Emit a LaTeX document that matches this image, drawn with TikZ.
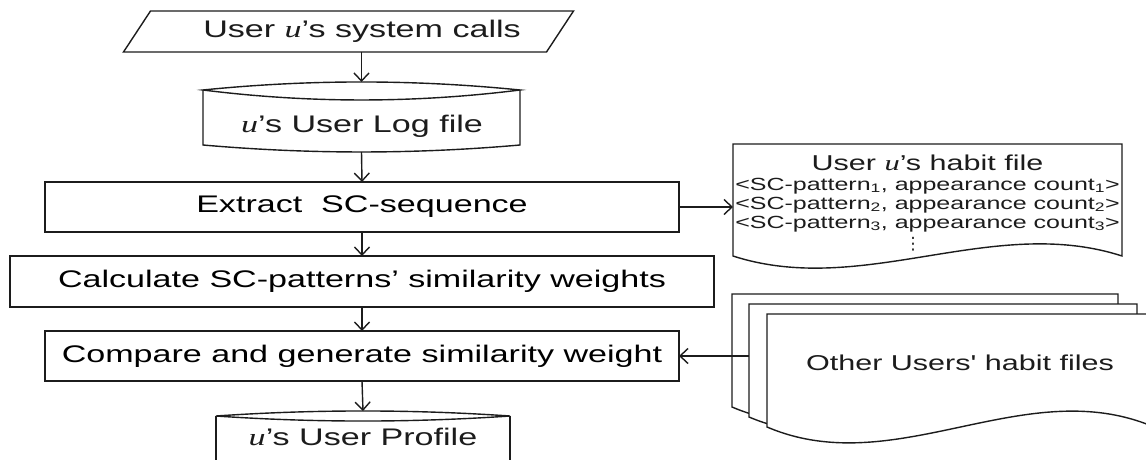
\documentclass[tikz,border=0pt]{standalone}
\usepackage{fontspec}
\newfontfamily\lsans{Liberation Sans}[FakeStretch=1.42]
\newfontfamily\lserif{Liberation Serif}[FakeStretch=1.42]
\newfontfamily\dvsans{DejaVu Sans}
\usetikzlibrary{arrows.meta,calc}
\newcommand\uvar{{\lserif\itshape u}}
\definecolor{ink}{HTML}{1C1C1C}

\begin{document}
\begin{tikzpicture}[x=1pt,y=-1pt,
  outline/.style={draw=ink, line width=1.4pt, line join=miter},
  frame/.style={rectangle, inner sep=0pt, outer sep=0pt},
  procbox/.style={frame, draw=ink, line width=1.4pt, font=\lsans\fontsize{24}{28}\selectfont},
  label/.style={inner sep=0pt, text=ink, font=\lsans\fontsize{24}{28}\selectfont},
  sublabel/.style={inner sep=0pt, text=ink, font=\lsans\fontsize{21.5}{24}\selectfont},
  rowlabel/.style={inner sep=0pt, text=ink, font=\lsans\fontsize{17.6}{20}\selectfont},
  arr/.style={draw=ink, line width=1.4pt, -{Straight Barb[length=8pt,width=15pt,line width=1.4pt]}}]

\clip (0,0) rectangle (1146,460);
\fill[white] (0,0) rectangle (1146,460);

% input: system calls (parallelogram)
\node[frame, minimum width=450pt, minimum height=41pt] (src) at (348.5,31.5) {};
\draw[outline] (src.south west) -- ($(src.south east)+(-27,0)$) -- (src.north east)
  -- ($(src.north west)+(27,0)$) -- cycle;
\node[label] (srclbl) at (362,31.5) {User \uvar’s system calls};

% stored log file
\node[frame, minimum width=317pt, minimum height=70pt] (log) at (361.5,117) {};
\draw[outline] (203,90) .. controls (309,79.3) and (414,79.3) .. (520,90)
  .. controls (414,103.3) and (309,103.3) .. (203,90) -- cycle;
\draw[outline] (203,90) -- (203,145) .. controls (309,154.3) and (414,154.3) .. (520,145) -- (520,90);
\node[label] (loglbl) at (362,126) {\uvar’s User Log file};

% processing steps
\node[procbox, minimum width=634pt, minimum height=50pt] (ext) at (362,207) {Extract\ \ SC-sequence};
\node[procbox, minimum width=704pt, minimum height=51pt] (calc) at (362,281.5) {Calculate SC-patterns’ similarity weights};
\node[procbox, minimum width=634pt, minimum height=50pt] (cmp) at (362,356) {Compare and generate similarity weight};

% stored user profile
\node[frame, minimum width=294pt, minimum height=60pt] (prof) at (363,441) {};
\draw[outline] (216,416) .. controls (314,409.3) and (412,409.3) .. (510,416)
  .. controls (412,422.7) and (314,422.7) .. (216,416) -- cycle;
\draw[outline] (216,416) -- (216,480);
\draw[outline] (510,416) -- (510,480);
\node[label] (proflbl) at (363,437) {\uvar’s User Profile};

% habit file of user u (document shape)
\node[frame, minimum width=389pt, minimum height=112pt] (habit) at (927.5,200) {};
\draw[outline, fill=white] (733,144) -- (733,256)
  .. controls (862.7,298) and (992.3,214) .. (1122,256) -- (1122,144) -- cycle;
\node[sublabel] (hb0) at (927.5,163) {User \uvar’s habit file};
\node[rowlabel] (hb1) at (927.5,186) {<SC-pattern\textsubscript{1}, appearance count\textsubscript{1}>};
\node[rowlabel] (hb2) at (927.5,205) {<SC-pattern\textsubscript{2}, appearance count\textsubscript{2}>};
\node[rowlabel] (hb3) at (927.5,224) {<SC-pattern\textsubscript{3}, appearance count\textsubscript{3}>};
\node[inner sep=0pt, text=ink, font=\dvsans\fontsize{17}{17}\selectfont] (hbd) at (913,244) {⋮};

% stack of other users' habit files
\node[frame, minimum width=386pt, minimum height=113pt] (oback) at (925,350.5) {};
\node[frame, minimum width=388pt, minimum height=113pt] (omid) at (943,360.5) {};
\node[frame, minimum width=387pt, minimum height=113pt] (ofront) at (960.5,370.5) {};
\draw[outline, fill=white] (732,294) -- (732,407)
  .. controls (860.7,462) and (989.3,352) .. (1118,407) -- (1118,294) -- cycle;
\draw[outline, fill=white] (749,304) -- (749,417)
  .. controls (878.3,472) and (1007.7,362) .. (1137,417) -- (1137,304) -- cycle;
\draw[outline, fill=white] (767,314) -- (767,427)
  .. controls (896,482) and (1025,372) .. (1154,427) -- (1154,314) -- cycle;
\node[sublabel] (othlbl) at (960,363) {Other Users' habit files};

% connectors
\draw[arr] (src.south -| log.north) -- (log.north);
\draw[arr] (log.south) -- (ext.north);
\draw[arr] (ext.south) -- (calc.north);
\draw[arr] (calc.south) -- (cmp.north);
\draw[arr] (cmp.south) -- (prof.north);
\draw[arr] (ext.east) -- (ext.east -| habit.west);
\draw[arr] (cmp.east -| omid.west) -- (cmp.east);
\end{tikzpicture}
\end{document}
